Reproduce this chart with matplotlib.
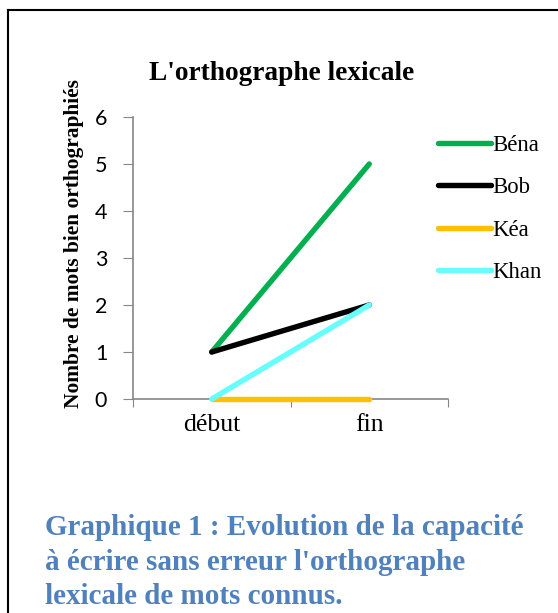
import matplotlib
matplotlib.use("Agg")
import matplotlib.pyplot as plt
from matplotlib.lines import Line2D

# Data
moments = ['début', 'fin']
eleves = ['Béna', 'Bob', 'Kéa', 'Khan']
bena = [1, 5]
bob = [1, 2]
kea = [0, 0]
khan = [0, 2]
couleurs = ['#00B050', '#000000', '#FFC000', '#66FFFF']

serif = 'Liberation Serif'
sans = 'Lato'

fig = plt.figure(figsize=(5.58, 6.13), dpi=100)
ax = fig.add_axes([133/558, 1-399/613, 315/558, 282/613])

x = [0.5, 1.5]
for serie, nom, c in zip([bena, bob, kea, khan], eleves, couleurs):
    ax.plot(x, serie, color=c, linewidth=3.9, label=nom,
            solid_capstyle='round', clip_on=False, zorder=3)

ax.set_xlim(0, 2)
ax.set_ylim(0, 6)
ax.set_yticks(range(7))
ax.set_yticklabels([str(v) for v in range(7)], fontfamily=sans, fontsize=15.5)
ax.set_xticks([0, 1, 2])
ax.set_xticklabels([])
ax.set_xticks(x, minor=True)
ax.set_xticklabels(moments, minor=True, fontfamily=serif, fontsize=18.5)
ax.tick_params(axis='x', which='minor', length=0, pad=11)
ax.tick_params(axis='x', which='major', length=6, color='#868686', direction='out')
ax.tick_params(axis='y', length=7, color='#868686', pad=16)
for t in ax.get_yticklabels():
    t.set_horizontalalignment('center')

for s in ['top', 'right']:
    ax.spines[s].set_visible(False)
for s in ['left', 'bottom']:
    ax.spines[s].set_color('#868686')
    ax.spines[s].set_linewidth(1.2)

ax.set_ylabel('Nombre de mots bien orthographiés', fontfamily=serif,
              fontweight='bold', fontsize=15.4)
ax.yaxis.set_label_coords(-0.157, 0.551)

fig.text(282/558, 1-73/613, "L'orthographe lexicale", fontfamily=serif,
         fontweight='bold', fontsize=19.7, ha='center', va='center')

leg = fig.legend(loc='upper left', bbox_to_anchor=(417/558, 1-114/613),
                 frameon=False, prop={'family': serif, 'size': 16.4},
                 handlelength=2.35, handletextpad=0.05, labelspacing=0.95)

fig.text(45/558, 1-562/613,
         "Graphique 1 : Evolution de la capacité\nà écrire sans erreur l'orthographe\nlexicale de mots connus.",
         fontfamily=serif, fontweight='bold', fontsize=21, color='#4F81BD',
         ha='left', va='center', linespacing=1.37)

# border (top and left only visible)
fig.add_artist(Line2D([8/558, 1], [1-10/613, 1-10/613], color='black', linewidth=1.5))
fig.add_artist(Line2D([8/558, 8/558], [0, 1-10/613], color='black', linewidth=1.5))

fig.savefig('out.png', dpi=100)
